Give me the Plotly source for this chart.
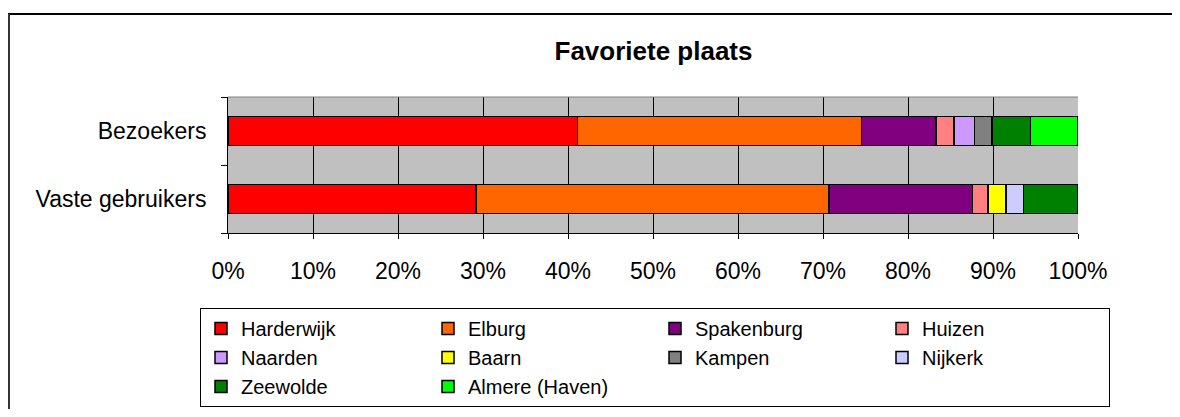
import plotly.graph_objects as go

categories = ["Vaste gebruikers", "Bezoekers"]
places = ["Harderwijk", "Elburg", "Spakenburg", "Huizen", "Naarden",
          "Baarn", "Kampen", "Nijkerk", "Zeewolde", "Almere (Haven)"]
colors = ["#FF0000", "#FF6600", "#800080", "#FF8080", "#CC99FF",
          "#FFFF00", "#808080", "#CCCCFF", "#008000", "#00FF00"]
# shares in percent, order: [Vaste gebruikers, Bezoekers]
harderwijk = [29.2, 41.1]
elburg = [41.5, 33.4]
spakenburg = [16.9, 8.8]
huizen = [1.8, 2.1]
naarden = [0.0, 2.4]
baarn = [2.1, 0.0]
kampen = [0.0, 2.1]
nijkerk = [2.1, 0.0]
zeewolde = [6.4, 4.5]
almere = [0.0, 5.6]
series = [harderwijk, elburg, spakenburg, huizen, naarden,
          baarn, kampen, nijkerk, zeewolde, almere]
xticks = [0, 10, 20, 30, 40, 50, 60, 70, 80, 90, 100]

FONT = "Arial, Liberation Sans, sans-serif"

fig = go.Figure()
for name, vals, col in zip(places, series, colors):
    fig.add_trace(go.Bar(
        y=categories, x=vals, name=name, orientation="h",
        marker=dict(color=col, line=dict(color="black", width=1.5)),
        width=0.42,
    ))

# page has an 8px body margin; work in figure coordinates
OFF = 8
W, H = 1180 - 2 * OFF, 417 - 2 * OFF
L, R, T, B = 228 - OFF, 1078 - OFF, 97 - OFF, 233 - OFF
pw, ph = R - L, B - T

def px2x(x):
    return (x - OFF - L) / pw

def px2y(y):
    return (B - (y - OFF)) / ph

fig.update_layout(
    width=W, height=H,
    margin=dict(l=L, r=W - R, t=T, b=H - B, autoexpand=False),
    barmode="stack",
    paper_bgcolor="white",
    plot_bgcolor="#C0C0C0",
    font=dict(family=FONT, size=22, color="black"),
    title=dict(text="<b>Favoriete plaats</b>", x=px2x(653.5), xref="paper",
               xanchor="center", y=1 - (51 - OFF) / H, yanchor="middle",
               font=dict(size=26, family=FONT, color="black")),
    showlegend=True,
    legend=dict(
        orientation="h", x=px2x(200), xanchor="left", y=px2y(308), yanchor="top",
        xref="paper", yref="paper",
        bordercolor="black", borderwidth=1, bgcolor="white",
        font=dict(size=20, family=FONT, color="black"),
        entrywidth=182, entrywidthmode="pixels",
        traceorder="normal", itemwidth=30,
        tracegroupgap=0,
    ),
    xaxis=dict(
        range=[0, 100], tickvals=xticks, ticktext=[f"{v}%" for v in xticks],
        showgrid=True, gridcolor="black", gridwidth=1,
        showline=True, linecolor="black", linewidth=1,
        ticks="outside", ticklen=5, tickcolor="black",
        zeroline=False, ticklabelstandoff=12,
        tickfont=dict(size=23, family=FONT, color="black"),
        fixedrange=True,
    ),
    yaxis=dict(
        type="category", categoryorder="array", categoryarray=categories,
        showline=True, linecolor="black", linewidth=1,
        ticks="outside", ticklen=6, tickcolor="black", tickson="boundaries",
        showgrid=False, ticklabelstandoff=16,
        tickfont=dict(size=23, family=FONT, color="black"),
        fixedrange=True,
    ),
    shapes=[
        dict(type="line", xref="paper", yref="paper",
             x0=px2x(8), x1=px2x(1180 - OFF), y0=px2y(14), y1=px2y(14),
             line=dict(color="black", width=2)),
        dict(type="line", xref="paper", yref="paper",
             x0=px2x(9), x1=px2x(9), y0=px2y(14), y1=px2y(417 - OFF),
             line=dict(color="#333333", width=2)),
        dict(type="line", xref="paper", yref="paper",
             x0=0, x1=1, y0=1, y1=1,
             line=dict(color="#808080", width=1)),
    ],
)

fig.write_html(
    "out.html",
    post_script="document.documentElement.style.overflow='hidden';"
                "document.body.style.overflow='hidden';",
)
